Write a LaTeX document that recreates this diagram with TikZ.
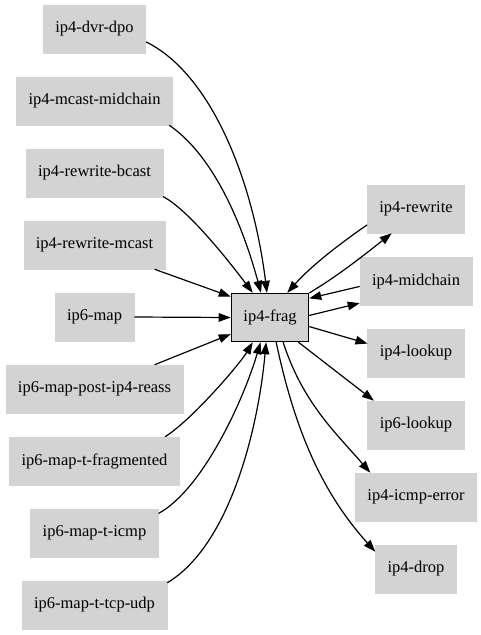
\documentclass[tikz,border=0pt]{standalone}
\usepackage{fontspec}
\setmainfont{Liberation Serif}
\usepackage{tikz}
\usetikzlibrary{arrows.meta}
\definecolor{nodegray}{HTML}{D3D3D3}

\begin{document}
\begin{tikzpicture}[x=1pt, y=-1pt,
    nd/.style={rectangle, draw=nodegray, fill=nodegray, line width=0.6pt,
               minimum height=48pt, inner xsep=12pt, inner ysep=0pt,
               font=\fontsize{16.5}{19}\selectfont},
    arr/.style={-{Triangle[length=12pt, width=8.5pt]}, line width=1.2pt, black},
]
    \useasboundingbox (0,0) rectangle (481,635);

    \node[nd] (dvr) at (94.5,29) {ip4-dvr-dpo};
    \node[nd] (mcmid) at (94.5,101) {ip4-mcast-midchain};
    \node[nd] (rwbc) at (94.5,173) {ip4-rewrite-bcast};
    \node[nd] (rwmc) at (94.5,245) {ip4-rewrite-mcast};
    \node[nd] (map) at (94.5,317) {ip6-map};
    \node[nd] (reass) at (94.5,389) {ip6-map-post-ip4-reass};
    \node[nd] (tfrag) at (94.5,461) {ip6-map-t-fragmented};
    \node[nd] (ticmp) at (94.5,533) {ip6-map-t-icmp};
    \node[nd] (ttcp) at (94.5,605) {ip6-map-t-tcp-udp};

    \node[nd, draw=black, line width=1.4pt] (frag) at (270,317.5) {ip4-frag};

    \node[nd] (rw) at (416,209) {ip4-rewrite};
    \node[nd] (mid) at (416,281.5) {ip4-midchain};
    \node[nd] (lk4) at (416,353) {ip4-lookup};
    \node[nd] (lk6) at (416,425) {ip6-lookup};
    \node[nd] (icmp) at (416,497) {ip4-icmp-error};
    \node[nd] (drop) at (416,569) {ip4-drop};

    \draw[arr] (dvr.-14) .. controls +(65,32) and +(-14,-113) .. (frag.97);
    \draw[arr] (mcmid.-18) .. controls +(41,28) and +(-21,-77) .. (frag.110);
    \draw[arr] (rwbc.-19) .. controls +(27,14) and +(-18,-24) .. (frag.125);
    \draw[arr] (rwmc.-22) -- (frag.152);
    \draw[arr] (map.east) -- (frag.west);
    \draw[arr] (reass.22) -- (frag.203);
    \draw[arr] (tfrag.19) .. controls +(26,-16) and +(-13,22) .. (frag.235);
    \draw[arr] (ticmp.17) .. controls +(44,-24) and +(-17,58) .. (frag.249);
    \draw[arr] (ttcp.17.5) .. controls +(62,-37) and +(-8,88) .. (frag.261);

    \draw[arr] (frag.32) .. controls +(30,-18) and +(-28,22) .. (rw.225);
    \draw[arr] (rw.198) .. controls +(-29,20) and +(23,-26) .. (frag.55);
    \draw[arr] (mid.185) -- (frag.26);
    \draw[arr] (frag.3) -- (mid.201);
    \draw[arr] (frag.-13) -- (lk4.169);
    \draw[arr] (frag.-41) -- (lk6.150);
    \draw[arr] (frag.-62) .. controls +(19.5,60) and +(-36,-41.5) .. (icmp.152);
    \draw[arr] (frag.-76) .. controls +(18.7,88) and +(-53.5,-59.4) .. (drop.157);
\end{tikzpicture}
\end{document}
